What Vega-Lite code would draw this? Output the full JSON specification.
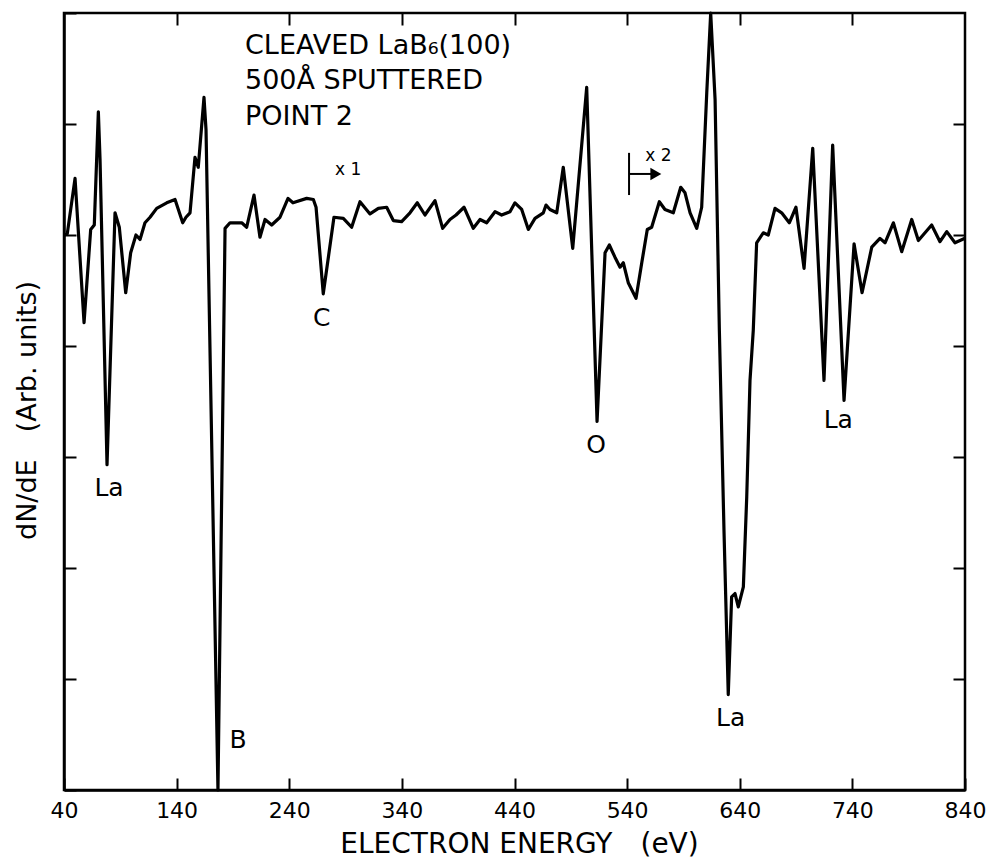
{
  "$schema": "https://vega.github.io/schema/vega-lite/v6.json",
  "width": 901,
  "height": 777,
  "autosize": {"type": "none"},
  "padding": {"left": 64, "top": 13, "right": 26, "bottom": 70},
  "background": "white",
  "config": {
    "view": {"stroke": "black", "strokeWidth": 2.5},
    "font": "DejaVu Sans",
    "axis": {
      "grid": false,
      "domainColor": "black",
      "domainWidth": 2.5,
      "tickColor": "black",
      "tickWidth": 2,
      "labelColor": "black",
      "titleColor": "black",
      "labelFont": "DejaVu Sans",
      "titleFont": "DejaVu Sans"
    }
  },
  "resolve": {"axis": {"x": "independent", "y": "independent"}},
  "layer": [
    {
      "data": {"values": [
        {"E":40,"V":5.00},{"E":42.9,"V":5.01},{"E":49.8,"V":5.51},{"E":57.8,"V":4.21},{"E":63.7,"V":5.05},{"E":66.9,"V":5.09},{"E":70.5,"V":6.11},{"E":72.0,"V":5.68},{"E":78.2,"V":2.93},{"E":85.3,"V":5.20},{"E":89.1,"V":5.07},{"E":94.8,"V":4.48},{"E":99.2,"V":4.84},{"E":103.9,"V":5.00},{"E":107.5,"V":4.96},{"E":111.9,"V":5.11},{"E":116.4,"V":5.16},{"E":122.3,"V":5.24},{"E":131.2,"V":5.29},{"E":138.6,"V":5.32},{"E":145.4,"V":5.11},{"E":148.3,"V":5.16},{"E":151.9,"V":5.20},{"E":156.3,"V":5.70},{"E":159.2,"V":5.61},{"E":164.3,"V":6.24},{"E":166.1,"V":5.95},{"E":176.7,"V":0.0},{"E":183.0,"V":5.06},{"E":187.4,"V":5.11},{"E":197.8,"V":5.11},{"E":202.2,"V":5.07},{"E":208.7,"V":5.36},{"E":214.0,"V":4.98},{"E":218.5,"V":5.14},{"E":224.4,"V":5.09},{"E":231.8,"V":5.16},{"E":238.9,"V":5.33},{"E":243.3,"V":5.29},{"E":255.5,"V":5.33},{"E":261.4,"V":5.32},{"E":263.8,"V":5.25},{"E":270.2,"V":4.47},{"E":279.7,"V":5.16},{"E":288.0,"V":5.15},{"E":295.4,"V":5.07},{"E":302.8,"V":5.30},{"E":311.7,"V":5.19},{"E":319.1,"V":5.24},{"E":326.5,"V":5.25},{"E":332.4,"V":5.13},{"E":339.8,"V":5.12},{"E":347.2,"V":5.20},{"E":353.7,"V":5.29},{"E":360.5,"V":5.18},{"E":369.4,"V":5.31},{"E":376.2,"V":5.06},{"E":382.7,"V":5.14},{"E":388.1,"V":5.18},{"E":395.2,"V":5.25},{"E":403.4,"V":5.06},{"E":409.4,"V":5.14},{"E":415.3,"V":5.11},{"E":422.7,"V":5.21},{"E":428.6,"V":5.18},{"E":436.0,"V":5.21},{"E":440.4,"V":5.29},{"E":446.4,"V":5.23},{"E":452.3,"V":5.05},{"E":458.2,"V":5.15},{"E":465.6,"V":5.20},{"E":468.0,"V":5.27},{"E":471.5,"V":5.23},{"E":477.5,"V":5.20},{"E":483.3,"V":5.61},{"E":491.7,"V":4.88},{"E":504.1,"V":6.33},{"E":513.3,"V":3.32},{"E":520.4,"V":4.84},{"E":524.2,"V":4.91},{"E":529.2,"V":4.80},{"E":533.7,"V":4.71},{"E":536.6,"V":4.75},{"E":541.0,"V":4.57},{"E":547.9,"V":4.43},{"E":553.0,"V":4.75},{"E":557.9,"V":5.05},{"E":561.8,"V":5.07},{"E":568.6,"V":5.30},{"E":573.6,"V":5.23},{"E":581.0,"V":5.20},{"E":587.6,"V":5.43},{"E":591.4,"V":5.38},{"E":595.9,"V":5.20},{"E":601.8,"V":5.06},{"E":606.2,"V":5.25},{"E":610.7,"V":6.28},{"E":614.2,"V":7.0},{"E":618.1,"V":6.22},{"E":621.9,"V":4.14},{"E":626.0,"V":2.34},{"E":629.8,"V":0.86},{"E":632.8,"V":1.74},{"E":635.8,"V":1.77},{"E":638.7,"V":1.65},{"E":643.2,"V":1.83},{"E":646.2,"V":2.64},{"E":649.1,"V":3.69},{"E":652.0,"V":4.14},{"E":655.0,"V":4.93},{"E":660.9,"V":5.02},{"E":665.3,"V":5.00},{"E":671.3,"V":5.24},{"E":677.2,"V":5.20},{"E":684.0,"V":5.11},{"E":689.9,"V":5.25},{"E":697.1,"V":4.70},{"E":704.8,"V":5.78},{"E":714.8,"V":3.69},{"E":722.5,"V":5.81},{"E":732.6,"V":3.51},{"E":741.5,"V":4.92},{"E":748.6,"V":4.48},{"E":757.2,"V":4.89},{"E":764.5,"V":4.97},{"E":769.0,"V":4.93},{"E":776.4,"V":5.11},{"E":783.8,"V":4.85},{"E":792.7,"V":5.14},{"E":798.6,"V":4.95},{"E":810.4,"V":5.09},{"E":817.8,"V":4.94},{"E":823.8,"V":5.03},{"E":831.1,"V":4.93},{"E":840,"V":4.97}
      ]},
      "mark": {"type": "line", "color": "black", "strokeWidth": 3.2, "strokeJoin": "round"},
      "encoding": {
        "x": {"field": "E", "type": "quantitative", "scale": {"domain": [40, 840], "nice": false, "zero": false},
          "axis": {"orient": "bottom", "values": [40,140,240,340,440,540,640,740,840], "tickSize": -12, "labelPadding": 22, "labelFontSize": 22, "labelFlush": false, "title": "ELECTRON ENERGY\u2003(eV)", "titleFontSize": 28, "titleFontWeight": "normal", "titleX": 455, "titleY": 54, "titleBaseline": "middle", "titleAnchor": "middle"}},
        "y": {"field": "V", "type": "quantitative", "scale": {"domain": [0, 7], "nice": false, "zero": false},
          "axis": {"orient": "left", "values": [0,1,2,3,4,5,6,7], "tickSize": -12, "labels": false, "title": "dN/dE\u2003(Arb. units)", "titleFontSize": 27, "titleFontWeight": "normal", "titleX": -37, "titleY": 397, "titleBaseline": "middle", "titleAngle": -90, "titleAlign": "center"}}
      }
    },
    {
      "data": {"values": [{"E": 541.7, "y1": 5.36, "y2": 5.74}]},
      "mark": {"type": "rule", "color": "black", "strokeWidth": 2},
      "encoding": {
        "x": {"field": "E", "type": "quantitative", "axis": {"orient": "top", "values": [140,240,340,440,540,640,740], "tickSize": -12, "labels": false, "domain": false, "title": null}},
        "y": {"field": "y1", "type": "quantitative", "axis": {"orient": "right", "values": [1,2,3,4,5,6], "tickSize": -12, "labels": false, "domain": false, "title": null}},
        "y2": {"field": "y2"}
      }
    },
    {
      "data": {"values": [{"E1": 541.7, "E2": 564, "y": 5.55}]},
      "mark": {"type": "rule", "color": "black", "strokeWidth": 2},
      "encoding": {
        "x": {"field": "E1", "type": "quantitative", "axis": null},
        "x2": {"field": "E2"},
        "y": {"field": "y", "type": "quantitative", "axis": null}
      }
    },
    {
      "data": {"values": [{"E": 565.5, "y": 5.55}]},
      "mark": {"type": "point", "shape": "triangle-right", "filled": true, "color": "black", "opacity": 1, "size": 160},
      "encoding": {
        "x": {"field": "E", "type": "quantitative", "axis": null},
        "y": {"field": "y", "type": "quantitative", "axis": null}
      }
    },
    {
      "data": {"values": [
        {"E": 80, "y": 2.72, "t": "La"},
        {"E": 194.5, "y": 0.45, "t": "B"},
        {"E": 268.8, "y": 4.25, "t": "C"},
        {"E": 512.4, "y": 3.11, "t": "O"},
        {"E": 632, "y": 0.65, "t": "La"},
        {"E": 727.5, "y": 3.33, "t": "La"}
      ]},
      "mark": {"type": "text", "fontSize": 25, "color": "black", "align": "center", "baseline": "middle"},
      "encoding": {
        "x": {"field": "E", "type": "quantitative", "axis": null},
        "y": {"field": "y", "type": "quantitative", "axis": null},
        "text": {"field": "t"}
      }
    },
    {
      "data": {"values": [
        {"E": 292.4, "y": 5.59, "t": "x 1"},
        {"E": 567.7, "y": 5.71, "t": "x 2"}
      ]},
      "mark": {"type": "text", "fontSize": 17, "color": "black", "align": "center", "baseline": "middle"},
      "encoding": {
        "x": {"field": "E", "type": "quantitative", "axis": null},
        "y": {"field": "y", "type": "quantitative", "axis": null},
        "text": {"field": "t"}
      }
    },
    {
      "data": {"values": [
        {"E": 200.7, "y": 6.70, "t": "CLEAVED LaB\u2086(100)"},
        {"E": 200.7, "y": 6.39, "t": "500\u00c5 SPUTTERED"},
        {"E": 200.7, "y": 6.06, "t": "POINT 2"}
      ]},
      "mark": {"type": "text", "fontSize": 27, "color": "black", "align": "left", "baseline": "middle"},
      "encoding": {
        "x": {"field": "E", "type": "quantitative", "axis": null},
        "y": {"field": "y", "type": "quantitative", "axis": null},
        "text": {"field": "t"}
      }
    }
  ]
}
